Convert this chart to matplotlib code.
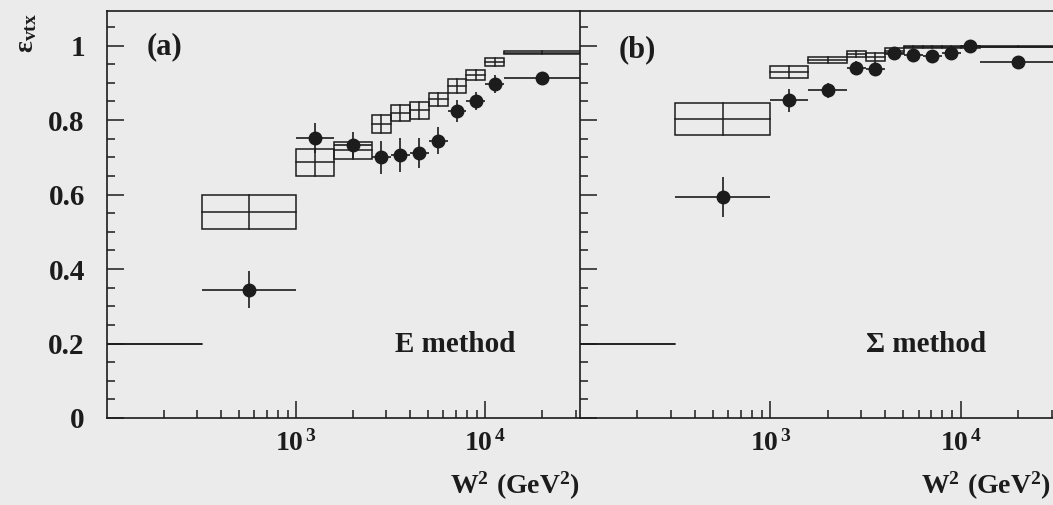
import numpy as np
import matplotlib
matplotlib.use("Agg")
import matplotlib.pyplot as plt
from matplotlib.patches import Rectangle
from matplotlib.ticker import FixedLocator, FixedFormatter, MultipleLocator, NullFormatter

plt.rcParams['font.family'] = ['Liberation Serif', 'DejaVu Serif']
plt.rcParams['font.weight'] = 'bold'
plt.rcParams['mathtext.fontset'] = 'custom'
plt.rcParams['mathtext.rm'] = 'Liberation Serif:bold'
plt.rcParams['mathtext.bf'] = 'Liberation Serif:bold'
plt.rcParams['mathtext.it'] = 'Liberation Serif:bold'

ink = '#1c1c1c'
paper = '#ebebeb'

# W^2 bin edges (GeV^2)
w2_edges = [100, 316, 1000, 1585, 2512, 3162, 3981, 5012, 6310, 7943, 10000, 12589, 31623]

# (a) E method: MC boxes (all bins), data points (bins 2..12)
mc_e = [0.20, 0.553, 0.687, 0.719, 0.789, 0.819, 0.826, 0.856, 0.891, 0.921, 0.956, 0.981]
mc_e_err = [0.0, 0.045, 0.036, 0.023, 0.024, 0.022, 0.022, 0.017, 0.019, 0.014, 0.011, 0.004]
data_e = [0.345, 0.752, 0.733, 0.700, 0.706, 0.712, 0.745, 0.824, 0.851, 0.897, 0.913]
data_e_err = [0.05, 0.04, 0.035, 0.045, 0.045, 0.04, 0.036, 0.03, 0.025, 0.024, 0.0]

# (b) Sigma method
mc_s = [0.20, 0.803, 0.929, 0.961, 0.978, 0.969, 0.985, 0.997, 0.997, 0.997, 0.997, 0.997]
mc_s_err = [0.0, 0.042, 0.015, 0.008, 0.008, 0.011, 0.008, 0.003, 0.003, 0.003, 0.003, 0.001]
data_s = [0.594, 0.853, 0.880, 0.940, 0.937, 0.980, 0.975, 0.972, 0.980, 0.999, 0.955]
data_s_err = [0.053, 0.03, 0.02, 0.018, 0.018, 0.01, 0.01, 0.01, 0.01, 0.005, 0.0]

y_ticks = [0, 0.2, 0.4, 0.6, 0.8, 1.0]
y_labels = ['0', '0.2', '0.4', '0.6', '0.8', '1']
x_major = [1e3, 1e4]
x_labels = [r'$\mathbf{10^{\,3}}$', r'$\mathbf{10^{\,4}}$']


def draw_panel(ax, mc, mc_err, data, data_err):
    for i in range(len(mc)):
        lo, hi = w2_edges[i], w2_edges[i + 1]
        c = np.sqrt(lo * hi)
        ax.add_patch(Rectangle((lo, mc[i] - mc_err[i]), hi - lo, 2 * mc_err[i],
                               fill=False, ec=ink, lw=1.1))
        ax.plot([lo, hi], [mc[i], mc[i]], color=ink, lw=1.1)
        ax.plot([c, c], [mc[i] - mc_err[i], mc[i] + mc_err[i]], color=ink, lw=1.1)
    lo = np.array(w2_edges[1:-1])
    hi = np.array(w2_edges[2:])
    c = np.sqrt(lo * hi)
    ax.errorbar(c, data, yerr=data_err, xerr=[c - lo, hi - c], fmt='o', ms=9,
                color=ink, lw=1.2, capsize=0)

    ax.set_xscale('log')
    ax.set_xlim(100, 31623)
    ax.set_ylim(0, 1.093)
    ax.set_facecolor(paper)
    minors = [m * d for d in (100, 1000) for m in range(2, 10)] + [2e4, 3e4]
    ax.xaxis.set_major_locator(FixedLocator(x_major))
    ax.xaxis.set_major_formatter(FixedFormatter(x_labels))
    ax.xaxis.set_minor_locator(FixedLocator(minors))
    ax.xaxis.set_minor_formatter(NullFormatter())
    ax.yaxis.set_major_locator(FixedLocator(y_ticks))
    ax.yaxis.set_minor_locator(MultipleLocator(0.05))
    ax.tick_params(which='both', direction='in', color=ink, width=1.1, top=False, right=False)
    ax.tick_params(axis='x', which='major', length=12, pad=9, labelsize=20, labelcolor=ink)
    ax.tick_params(axis='x', which='minor', length=6)
    ax.tick_params(axis='y', which='major', length=12, pad=16, labelsize=21, labelcolor=ink)
    ax.tick_params(axis='y', which='minor', length=5.5)
    for s in ax.spines.values():
        s.set_color(ink)
        s.set_linewidth(1.2)


fig = plt.figure(figsize=(10.53, 5.05), dpi=100, facecolor=paper)
W, H = 1053, 505
axa = fig.add_axes([107 / W, (H - 418) / H, 473 / W, 407 / H])
axb = fig.add_axes([580 / W, (H - 418) / H, 476 / W, 407 / H])

draw_panel(axa, mc_e, mc_e_err, data_e, data_e_err)
draw_panel(axb, mc_s, mc_s_err, data_s, data_s_err)

axa.yaxis.set_major_formatter(FixedFormatter(y_labels))
axa.spines['right'].set_visible(False)
axb.tick_params(axis='y', labelleft=False)
axb.spines['right'].set_visible(False)


def ftext(x, y, s, **kw):
    fig.text(x / W, 1 - y / H, s, color=ink, **kw)


ftext(27, 33, r'$\mathbf{ε_{vtx}}$', rotation=90, ha='center', va='center', fontsize=20)
ftext(164, 47, '(a)', ha='center', va='center', fontsize=22)
ftext(637, 50, '(b)', ha='center', va='center', fontsize=22)
ftext(455, 344, 'E method', ha='center', va='center', fontsize=21)
ftext(926, 344, 'Σ method', ha='center', va='center', fontsize=21)
ftext(580, 486, r'$\mathbf{W^{2}\ (GeV^{2})}$', ha='right', va='center', fontsize=20)
ftext(1051, 486, r'$\mathbf{W^{2}\ (GeV^{2})}$', ha='right', va='center', fontsize=20)

fig.savefig('out.png', dpi=100, facecolor=paper)
